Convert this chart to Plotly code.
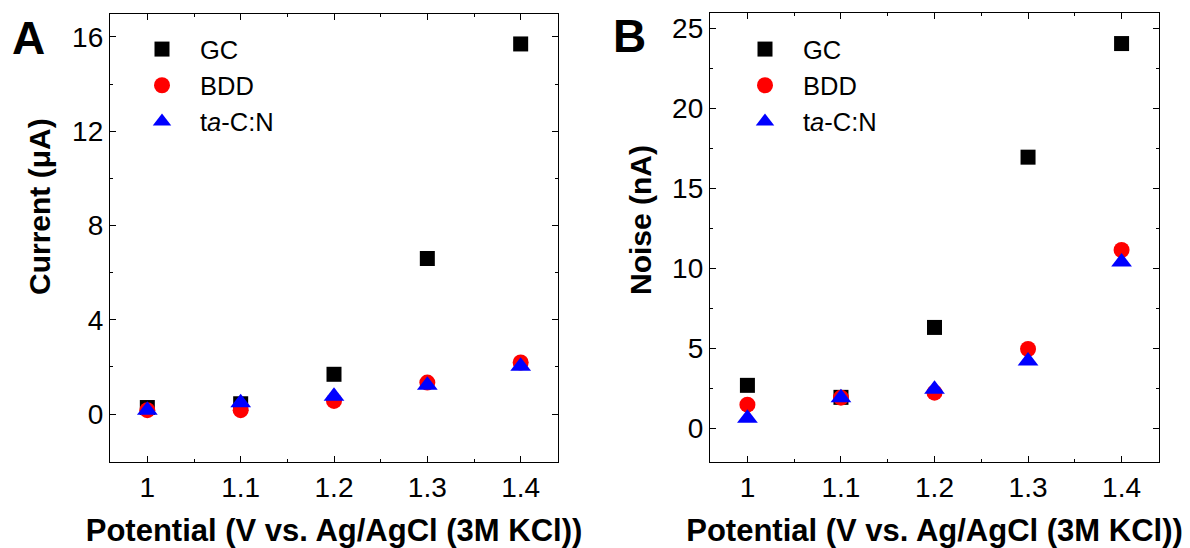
import plotly.graph_objects as go

# ---------------- data ----------------
potential = [1.0, 1.1, 1.2, 1.3, 1.4]
x_tick_vals = [1.0, 1.1, 1.2, 1.3, 1.4]
x_tick_text = ["1", "1.1", "1.2", "1.3", "1.4"]

# Panel A: Current (uA)
gc_current = [0.28, 0.44, 1.69, 6.6, 15.7]
bdd_current = [0.17, 0.17, 0.56, 1.34, 2.19]
tacn_current = [0.17, 0.48, 0.76, 1.23, 2.03]

# Panel B: Noise (nA)
gc_noise = [2.69, 1.94, 6.31, 16.95, 24.05]
bdd_noise = [1.48, 1.92, 2.23, 4.96, 11.15]
tacn_noise = [0.63, 1.92, 2.44, 4.21, 10.4]

series_names = ["GC", "BDD", "t<i>a</i>-C:N"]
series_colors = ["#000000", "#ff0000", "#0000ff"]
series_symbols = ["square", "circle", "triangle-up"]
series_sizes = [15, 16, 18]

FONT = "Arial, Liberation Sans, sans-serif"
W, H = 1190, 548

fig = go.Figure()

panel_a = [gc_current, bdd_current, tacn_current]
panel_b = [gc_noise, bdd_noise, tacn_noise]

for i in range(3):
    fig.add_trace(go.Scatter(
        x=potential, y=panel_a[i], mode="markers", name=series_names[i],
        marker=dict(symbol=series_symbols[i], color=series_colors[i],
                    size=series_sizes[i], line=dict(width=0)),
        xaxis="x", yaxis="y", legend="legend"))
for i in range(3):
    fig.add_trace(go.Scatter(
        x=potential, y=panel_b[i], mode="markers", name=series_names[i],
        marker=dict(symbol=series_symbols[i], color=series_colors[i],
                    size=series_sizes[i], line=dict(width=0)),
        xaxis="x2", yaxis="y2", legend="legend2"))

def px_x(p):
    return p / W

def px_y(p):
    return 1 - p / H

common_axis = dict(
    showline=True, linecolor="#000000", linewidth=1.3, mirror="ticks",
    ticks="inside", ticklen=6, tickwidth=1.3, tickcolor="#000000",
    showgrid=False, zeroline=False,
    tickfont=dict(family=FONT, size=28, color="#000000"),
)

xaxis_common = dict(
    common_axis, range=[0.96, 1.44], tickvals=x_tick_vals, ticktext=x_tick_text,
    minor=dict(dtick=0.05, tick0=0.95, ticks="inside", ticklen=3,
               tickwidth=1.3, tickcolor="#000000"),
    title=dict(text="<b>Potential (V vs. Ag/AgCl (3M KCl))</b>",
               font=dict(family=FONT, size=31, color="#000000"), standoff=22),
)

legend_common = dict(xanchor="left", yanchor="top", bgcolor="rgba(0,0,0,0)",
                     font=dict(family=FONT, size=25.5, color="#000000"),
                     itemsizing="trace", itemwidth=66, tracegroupgap=0)

fig.update_layout(
    width=W, height=H,
    margin=dict(l=0, r=0, t=0, b=0),
    paper_bgcolor="white", plot_bgcolor="white",
    font=dict(family=FONT, color="#000000"),
    xaxis=dict(xaxis_common, domain=[px_x(110), px_x(558)], anchor="y"),
    yaxis=dict(common_axis, domain=[px_y(462), px_y(14)], anchor="x",
               range=[-2.03, 16.97], tick0=0, dtick=4,
               minor=dict(dtick=2, tick0=0, ticks="inside", ticklen=3,
                          tickwidth=1.3, tickcolor="#000000")),
    xaxis2=dict(xaxis_common, domain=[px_x(710), px_x(1159)], anchor="y2"),
    yaxis2=dict(common_axis, domain=[px_y(462), px_y(13)], anchor="x2",
                range=[-2.1, 25.96], tick0=0, dtick=5,
                minor=dict(dtick=2.5, tick0=0, ticks="inside", ticklen=3,
                           tickwidth=1.3, tickcolor="#000000")),
    legend=dict(legend_common, x=px_x(124), y=px_y(26)),
    legend2=dict(legend_common, x=px_x(727), y=px_y(26)),
    annotations=[
        dict(text="<b>Current (μA)</b>", x=px_x(39), y=px_y(207), xref="paper",
             yref="paper", xanchor="center", yanchor="middle", textangle=-90,
             showarrow=False, font=dict(family=FONT, size=30, color="#000000")),
        dict(text="<b>Noise (nA)</b>", x=px_x(640), y=px_y(220), xref="paper",
             yref="paper", xanchor="center", yanchor="middle", textangle=-90,
             showarrow=False, font=dict(family=FONT, size=30, color="#000000")),
        dict(text="<b>A</b>", x=px_x(28), y=px_y(38), xref="paper", yref="paper",
             xanchor="center", yanchor="middle", showarrow=False,
             font=dict(family=FONT, size=46, color="#000000")),
        dict(text="<b>B</b>", x=px_x(629), y=px_y(36), xref="paper", yref="paper",
             xanchor="center", yanchor="middle", showarrow=False,
             font=dict(family=FONT, size=46, color="#000000")),
    ],
)

fig.write_html("out.html")
